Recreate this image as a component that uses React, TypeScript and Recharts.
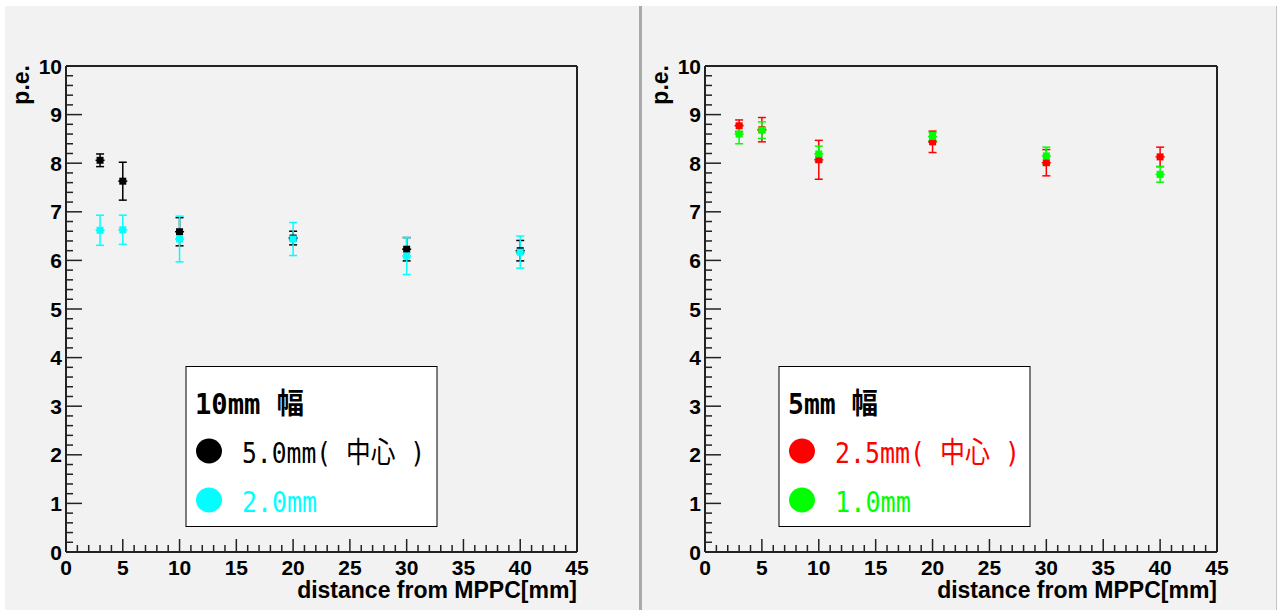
import React from "react";
import { ScatterChart, Scatter, XAxis, YAxis, ErrorBar, ReferenceLine } from "recharts";

// distance from MPPC [mm]
const DISTANCE = [3, 5, 10, 20, 30, 40];
const X_ERR = [0.4, 0.4, 0.4, 0.4, 0.4, 0.4];

// 10mm wide fiber
const PE_10MM_CENTER = [8.06, 7.63, 6.59, 6.46, 6.23, 6.2];
const ERR_10MM_CENTER = [0.13, 0.39, 0.29, 0.14, 0.24, 0.21];
const PE_10MM_2MM = [6.62, 6.63, 6.44, 6.44, 6.09, 6.17];
const ERR_10MM_2MM = [0.31, 0.3, 0.47, 0.34, 0.38, 0.33];

// 5mm wide fiber
const PE_5MM_CENTER = [8.77, 8.69, 8.07, 8.44, 8.01, 8.13];
const ERR_5MM_CENTER = [0.12, 0.25, 0.4, 0.22, 0.27, 0.2];
const PE_5MM_1MM = [8.6, 8.68, 8.19, 8.55, 8.15, 7.77];
const ERR_5MM_1MM = [0.2, 0.17, 0.16, 0.08, 0.18, 0.16];

const X_LABELS = [0, 5, 10, 15, 20, 25, 30, 35, 40, 45];
const Y_LABELS = [0, 1, 2, 3, 4, 5, 6, 7, 8, 9, 10];

// minor ticks: every 1 mm on x, every 0.2 p.e. on y
const X_TICKS = Array.from({ length: 46 }, (_, i) => i);
const Y_TICKS = Array.from({ length: 51 }, (_, i) => i / 5);

const AXIS = "#222";
const LABEL_FONT = "'Liberation Sans', Arial, Helvetica, sans-serif";
const LEGEND_FONT = "'DejaVu Sans Mono', 'Noto Sans CJK JP', monospace";

const toPoints = (ys: number[], errs: number[]) =>
  DISTANCE.map((x, i) => ({ x, y: ys[i], err: errs[i], xerr: X_ERR[i] }));

const XTick = (props: any) => {
  const { x, y, payload } = props;
  const v = payload.value;
  const major = X_LABELS.includes(v);
  return (
    <g>
      <line x1={x} x2={x} y1={y} y2={y - (major ? 13 : 7)} stroke={AXIS} strokeWidth={1.5} />
      {major && (
        <text x={x} y={y + 23} textAnchor="middle" fontFamily={LABEL_FONT} fontWeight="bold" fontSize={21} fill="#000">
          {v}
        </text>
      )}
    </g>
  );
};

const YTick = (props: any) => {
  const { x, y, payload } = props;
  const v = payload.value;
  const major = Y_LABELS.some((l) => Math.abs(l - v) < 1e-6);
  return (
    <g>
      <line x1={x} x2={x + (major ? 16 : 7)} y1={y} y2={y} stroke={AXIS} strokeWidth={1.5} />
      {major && (
        <text x={x - 4} y={y + 7.5} textAnchor="end" fontFamily={LABEL_FONT} fontWeight="bold" fontSize={21} fill="#000">
          {Math.round(v)}
        </text>
      )}
    </g>
  );
};

const square = (color: string) => (props: any) => (
  <rect x={props.cx - 3.5} y={props.cy - 3.5} width={7} height={7} fill={color} />
);

interface SeriesDef {
  name: string;
  color: string;
  ys: number[];
  errs: number[];
  textLen: number;
}

interface PanelProps {
  left: number;
  width: number;
  plotLeft: number;
  plotRight: number;
  title: string;
  titleLen: number;
  series: SeriesDef[];
  legendLeft: number;
}

const Panel: React.FC<PanelProps> = ({ left, width, plotLeft, plotRight, title, titleLen, series, legendLeft }) => {
  const height = 610;
  return (
    <div style={{ position: "absolute", left, top: 0, width, height }}>
      <ScatterChart
        width={width}
        height={height}
        margin={{ top: 66, left: plotLeft - 1, right: width - plotRight, bottom: 57 }}
      >
        <XAxis
          type="number"
          dataKey="x"
          domain={[0, 45]}
          ticks={X_TICKS}
          interval={0}
          height={1}
          tickSize={0}
          tickMargin={0}
          tick={<XTick />}
          axisLine={{ stroke: AXIS, strokeWidth: 2 }}
          allowDataOverflow
        />
        <YAxis
          type="number"
          dataKey="y"
          domain={[0, 10]}
          ticks={Y_TICKS}
          interval={0}
          width={1}
          tickSize={0}
          tickMargin={0}
          tick={<YTick />}
          axisLine={{ stroke: AXIS, strokeWidth: 2 }}
          allowDataOverflow
        />
        <ReferenceLine y={10} stroke={AXIS} strokeWidth={2} />
        <ReferenceLine x={45} stroke={AXIS} strokeWidth={2} />
        {series.map((s) => (
          <Scatter
            key={s.name}
            name={s.name}
            data={toPoints(s.ys, s.errs)}
            fill={s.color}
            shape={square(s.color)}
            isAnimationActive={false}
          >
            <ErrorBar dataKey="err" direction="y" width={4} stroke={s.color} strokeWidth={1.5} isAnimationActive={false} />
            <ErrorBar dataKey="xerr" direction="x" width={0} stroke={s.color} strokeWidth={1.5} isAnimationActive={false} />
          </Scatter>
        ))}
      </ScatterChart>
      <svg
        width={width}
        height={height}
        style={{ position: "absolute", left: 0, top: 0, pointerEvents: "none" }}
      >
        <text
          x={plotLeft - 37}
          y={65}
          transform={`rotate(-90, ${plotLeft - 37}, 65)`}
          textAnchor="end"
          fontFamily={LABEL_FONT}
          fontWeight="bold"
          fontSize={23}
          fill="#000"
        >
          p.e.
        </text>
        <text x={plotRight} y={598} textAnchor="end" fontFamily={LABEL_FONT} fontWeight="bold" fontSize={23} fill="#000">
          distance from MPPC[mm]
        </text>
        <rect x={legendLeft} y={366.5} width={251} height={160} fill="#fff" stroke="#000" strokeWidth={1} />
        <text
          x={legendLeft + 9}
          y={414}
          fontFamily={LEGEND_FONT}
          fontWeight="bold"
          fontSize={29}
          fill="#000"
          textLength={titleLen}
          lengthAdjust="spacingAndGlyphs"
        >
          {title}
        </text>
        {series.map((s, i) => (
          <g key={s.name}>
            <ellipse cx={legendLeft + 23} cy={451 + i * 49} rx={13} ry={12.5} fill={s.color} />
            <text
              x={legendLeft + 56}
              y={463 + i * 49}
              fontFamily={LEGEND_FONT}
              fontSize={29}
              fill={s.color}
              textLength={s.textLen}
              lengthAdjust="spacingAndGlyphs"
            >
              {s.name}
            </text>
          </g>
        ))}
      </svg>
    </div>
  );
};

export default function App() {
  return (
    <div style={{ position: "absolute", left: 0, top: 0, width: 1279, height: 610, background: "#fff", overflow: "hidden" }}>
      <div style={{ position: "absolute", left: 5, top: 6, width: 1271, height: 604, background: "#f2f2f2", borderRight: "1px solid #c4c4c4" }} />
      <div style={{ position: "absolute", left: 639, top: 6, width: 3, height: 604, background: "#a9a9a9" }} />
      <Panel
        left={0}
        width={640}
        plotLeft={66}
        plotRight={577}
        title="10mm 幅"
        titleLen={109}
        legendLeft={186}
        series={[
          { name: "5.0mm( 中心 )", color: "#000000", ys: PE_10MM_CENTER, errs: ERR_10MM_CENTER, textLen: 183 },
          { name: "2.0mm", color: "#00ffff", ys: PE_10MM_2MM, errs: ERR_10MM_2MM, textLen: 75 },
        ]}
      />
      <Panel
        left={640}
        width={639}
        plotLeft={65}
        plotRight={577}
        title="5mm 幅"
        titleLen={90}
        legendLeft={139}
        series={[
          { name: "2.5mm( 中心 )", color: "#ff0000", ys: PE_5MM_CENTER, errs: ERR_5MM_CENTER, textLen: 185 },
          { name: "1.0mm", color: "#00ff00", ys: PE_5MM_1MM, errs: ERR_5MM_1MM, textLen: 76 },
        ]}
      />
    </div>
  );
}
